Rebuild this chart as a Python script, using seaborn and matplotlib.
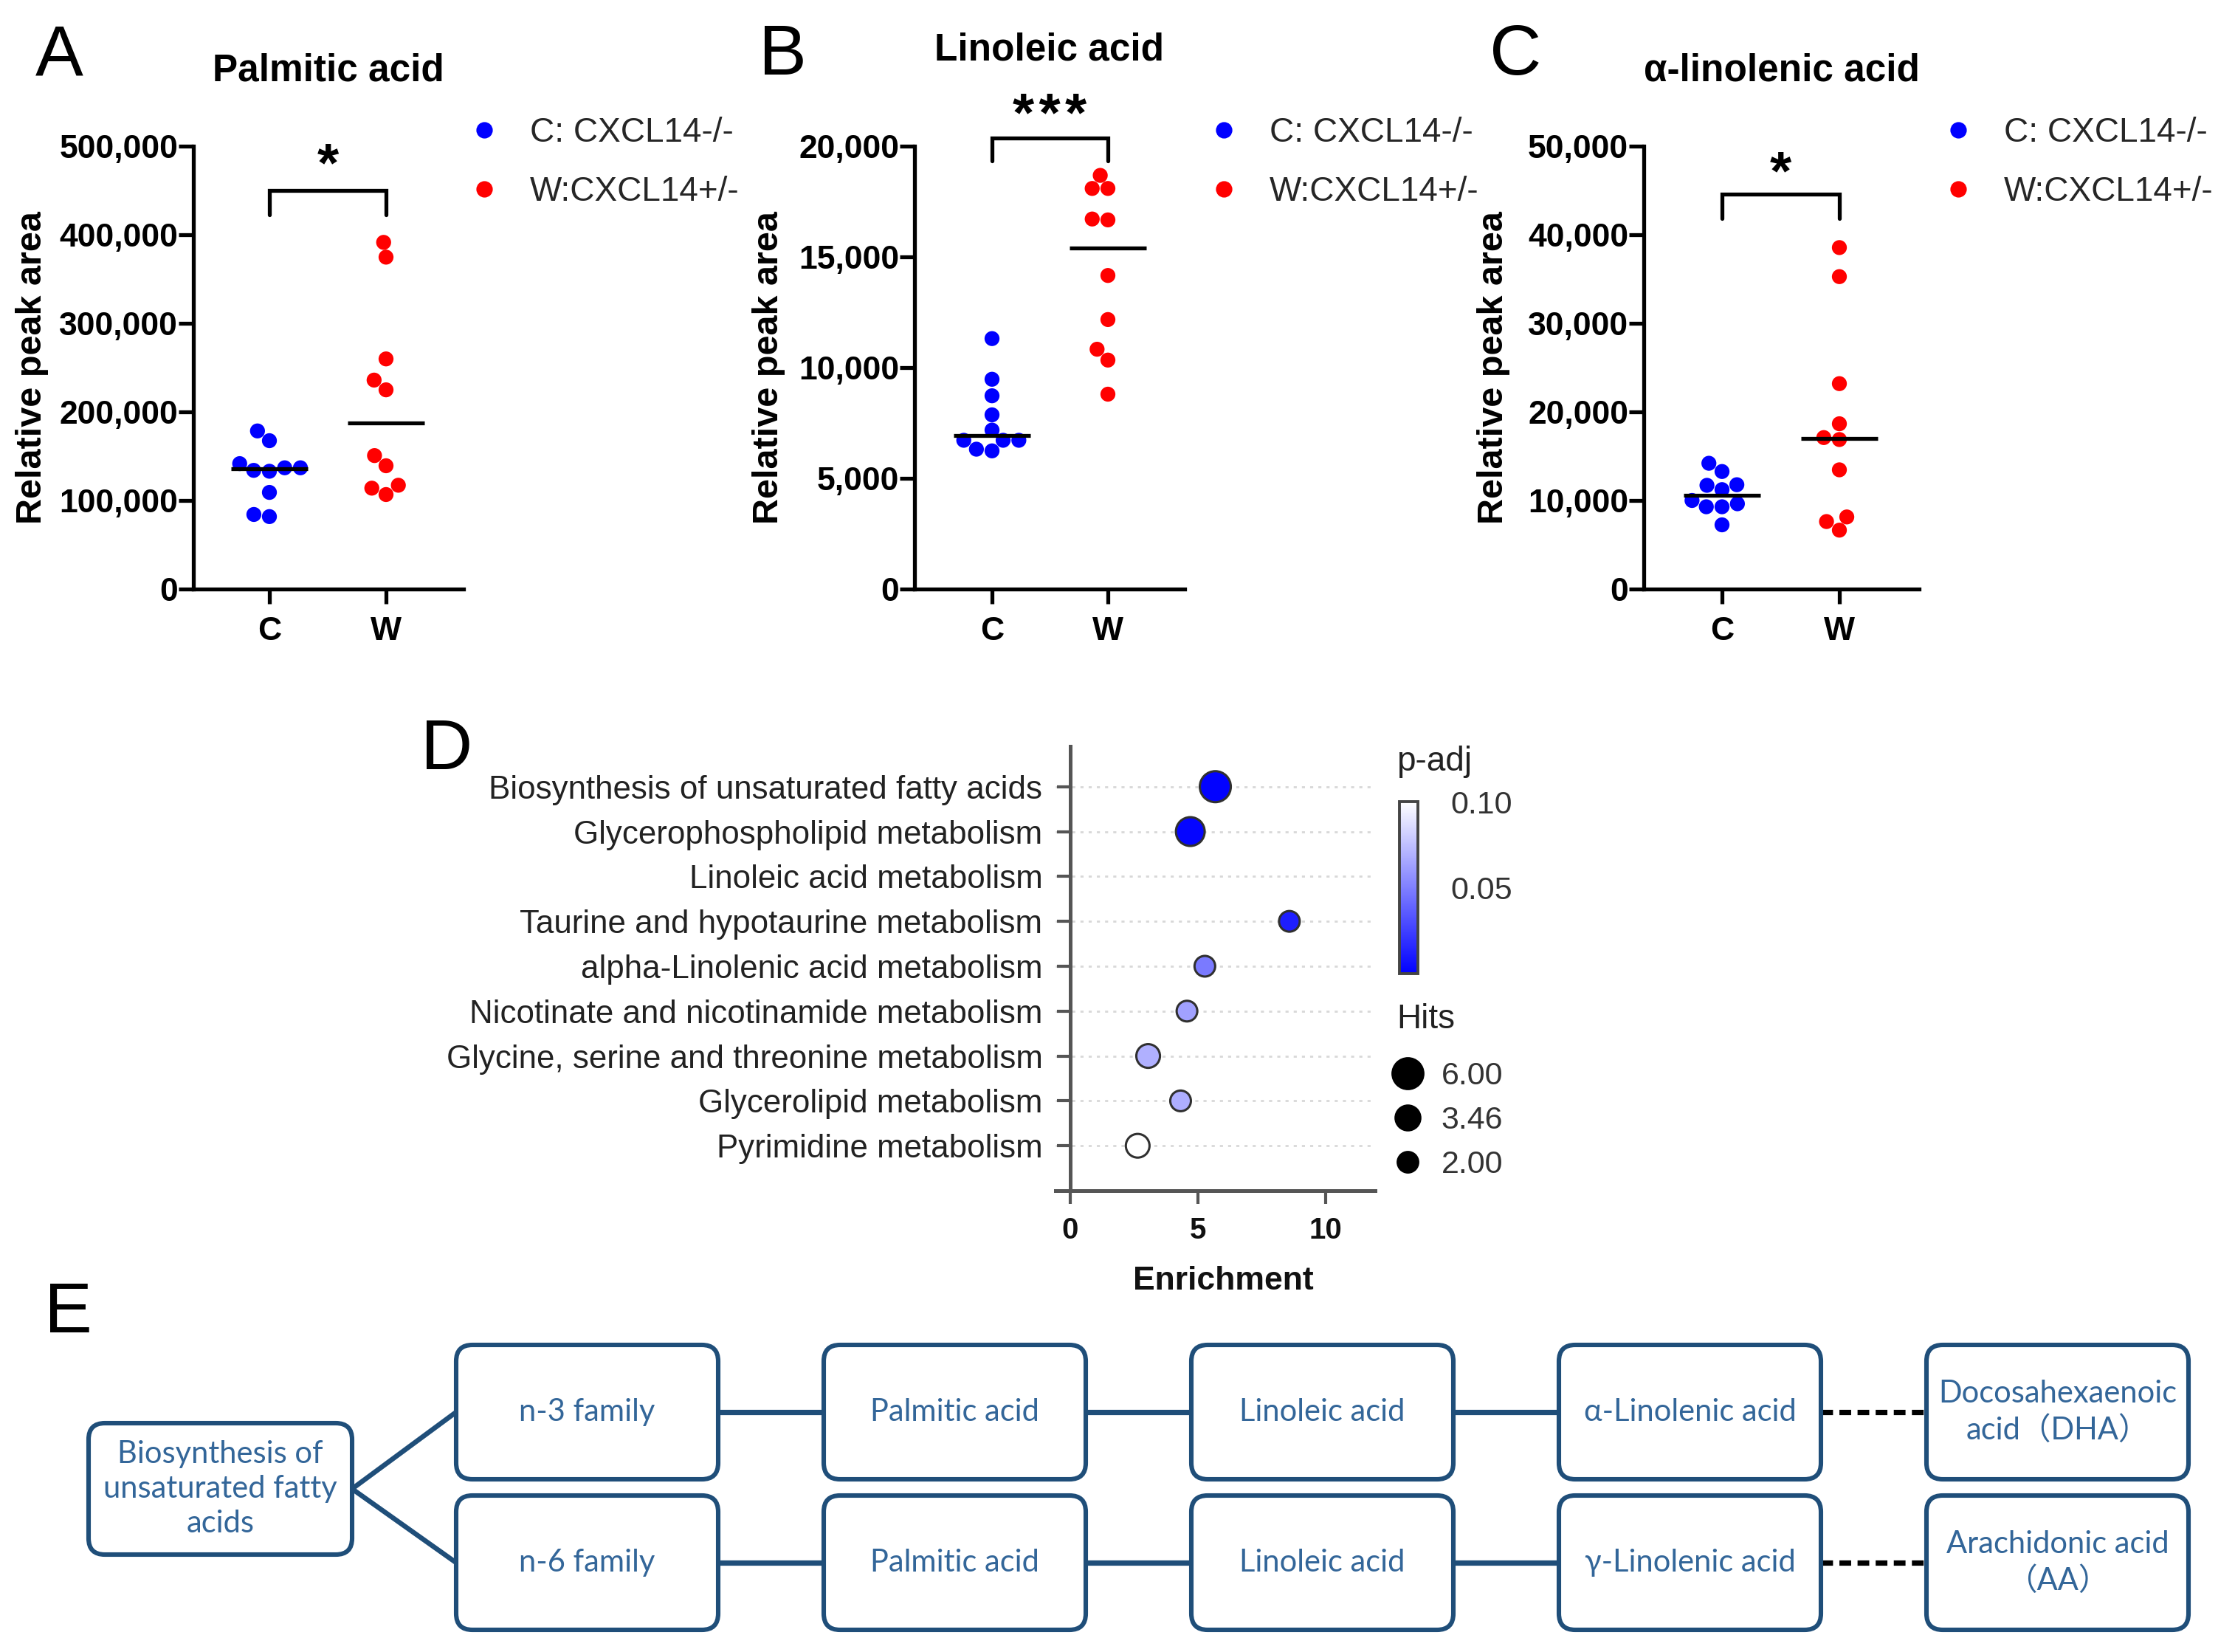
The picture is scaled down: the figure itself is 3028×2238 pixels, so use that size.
import numpy as np
import pandas as pd
import matplotlib
matplotlib.use("Agg")
import matplotlib.pyplot as plt
import seaborn as sns
from matplotlib.lines import Line2D
from matplotlib.patches import FancyBboxPatch
from matplotlib.colors import LinearSegmentedColormap, Normalize
from matplotlib.ticker import FormatStrFormatter

sns.set_theme(style="white")
plt.rcParams["font.family"] = ["Liberation Sans", "DejaVu Sans"]

# ---------------- data: panels A-C ----------------
groups = ["C", "W"]
legend_labels = ["C: CXCL14-/-", "W:CXCL14+/-"]
group_colors = ["#0000FF", "#FF0000"]

palmitic_C = [167500, 178500, 136900, 133000, 136900, 141600, 134000, 109100, 81800, 84200]
palmitic_W = [391400, 374700, 259800, 235900, 224900, 150700, 139200, 117200, 113900, 106700]
linoleic_C = [11310, 9474, 8728, 7867, 7178, 6316, 6718, 6718, 6718, 6240]
linoleic_W = [18680, 18090, 18090, 16670, 16710, 14160, 12170, 10830, 10340, 8800]
alinolenic_C = [14200, 13270, 11710, 11780, 11225, 10000, 9290, 9290, 9630, 7250]
alinolenic_W = [38550, 35270, 23190, 18660, 17100, 16880, 13460, 8140, 7620, 6650]

titles = ["Palmitic acid", "Linoleic acid", "α-linolenic acid"]
panel_letters = ["A", "B", "C"]
y_max = [500000, 20000, 50000]
y_ticks = [[0, 100000, 200000, 300000, 400000, 500000],
           [0, 5000, 10000, 15000, 20000],
           [0, 10000, 20000, 30000, 40000, 50000]]
signif = ["*", "***", "*"]
bracket_top = [450000, 20370, 44570]
bracket_arm = [422500, 19330, 41820]
star_y = [477000, 21300, 46800]

# ---------------- data: panel D ----------------
pathways = ["Biosynthesis of unsaturated fatty acids",
            "Glycerophospholipid metabolism",
            "Linoleic acid metabolism",
            "Taurine and hypotaurine metabolism",
            "alpha-Linolenic acid metabolism",
            "Nicotinate and nicotinamide metabolism",
            "Glycine, serine and threonine metabolism",
            "Glycerolipid metabolism",
            "Pyrimidine metabolism"]
enrichment = [5.68, 4.70, np.nan, 8.58, 5.27, 4.57, 3.05, 4.32, 2.64]
p_adj = [0.001, 0.002, np.nan, 0.012, 0.048, 0.063, 0.069, 0.068, 0.100]
hits = [6, 5, np.nan, 2, 2, 2, 3, 2, 3]
enrich_ticks = [0, 5, 10]
padj_ticks = [0.05, 0.10]
hits_legend = [6.00, 3.46, 2.00]

# ---------------- data: panel E ----------------
root_label = "Biosynthesis of\nunsaturated fatty\nacids"
row_n3 = ["n-3 family", "Palmitic acid", "Linoleic acid", "α-Linolenic acid",
          "Docosahexaenoic\nacid（DHA）"]
row_n6 = ["n-6 family", "Palmitic acid", "Linoleic acid", "γ-Linolenic acid",
          "Arachidonic acid\n（AA）"]

# ---------------- figure ----------------
W, H = 3028, 2238
DPI = 200
fig = plt.figure(figsize=(W / DPI, H / DPI), dpi=DPI)
fig.patch.set_facecolor("white")


def fx(px):
    return px / W


def fy(py):
    return 1 - py / H


# flowchart canvas (pixel coordinates)
axE = fig.add_axes([0, 0, 1, 1])
axE.set_xlim(0, W)
axE.set_ylim(H, 0)
axE.axis("off")
axE.patch.set_alpha(0)

# panels A-C
panel_data = [(palmitic_C, palmitic_W), (linoleic_C, linoleic_W), (alinolenic_C, alinolenic_W)]
axes_px = [(262, 628), (1239, 1605), (2227, 2600)]
cat_px = [(365, 523), (1344, 1501), (2333, 2492)]
title_y = [96, 68, 96]
ylabel_x = [-0.535, -0.478, -0.485]
legend_left = [638, 1640, 2635]
letter_x = [48, 1028, 2018]
AX_TOP, AX_BOT = 198, 798
palette = dict(zip(groups, group_colors))

for i in range(3):
    c_vals, w_vals = panel_data[i]
    df = pd.DataFrame({"group": ["C"] * len(c_vals) + ["W"] * len(w_vals),
                       "value": list(c_vals) + list(w_vals)})
    l, r = axes_px[i]
    ax = fig.add_axes([fx(l), fy(AX_BOT), fx(r - l), (AX_BOT - AX_TOP) / H])
    sns.swarmplot(data=df, x="group", y="value", hue="group", order=groups,
                  hue_order=groups, palette=palette, size=7.3, linewidth=0,
                  legend=False, ax=ax, zorder=3)
    unit = cat_px[i][1] - cat_px[i][0]
    ax.set_xlim((l - cat_px[i][0]) / unit, (r - cat_px[i][0]) / unit)
    ax.set_ylim(0, y_max[i])
    # medians
    for j, vals in enumerate([c_vals, w_vals]):
        ax.hlines(np.median(vals), j - 0.33, j + 0.33, color="black", lw=1.9, zorder=4)
    # bracket & stars
    ax.plot([0, 0, 1, 1], [bracket_arm[i], bracket_top[i], bracket_top[i], bracket_arm[i]],
            color="black", lw=1.9, clip_on=False, solid_joinstyle="miter")
    ax.text(0.5, star_y[i], "\u200a".join(signif[i]), ha="center", va="center",
            fontsize=27, fontweight="bold", color="black")
    for s in ["top", "right"]:
        ax.spines[s].set_visible(False)
    for s in ["left", "bottom"]:
        ax.spines[s].set_linewidth(1.9)
        ax.spines[s].set_color("black")
    ax.set_yticks(y_ticks[i], labels=[f"{v:,}" for v in y_ticks[i]],
                  fontweight="bold", fontsize=16)
    ax.set_xticks([0, 1], labels=groups, fontweight="bold", fontsize=16)
    ax.tick_params(axis="both", direction="out", length=7.2, width=1.9,
                   color="black", labelcolor="black", left=True, bottom=True)
    ax.tick_params(axis="y", pad=0.3)
    ax.tick_params(axis="x", pad=6)
    ax.set_xlabel("")
    ax.set_ylabel("Relative peak area", fontsize=17.5, fontweight="bold", color="black")
    ax.yaxis.set_label_coords(ylabel_x[i], 0.5)
    ax.set_title(titles[i], fontsize=18.5, fontweight="bold", color="black",
                 y=1 + (AX_TOP - title_y[i]) / (AX_BOT - AX_TOP), va="center", pad=0)
    ax.patch.set_alpha(0)
    handles = [Line2D([], [], marker="o", ls="", color=c, markersize=7) for c in group_colors]
    ax.legend(handles, legend_labels, loc="upper left",
              bbox_to_anchor=(fx(legend_left[i]), fy(158)), bbox_transform=fig.transFigure,
              frameon=False, fontsize=16.5, handlelength=0.8, handletextpad=0.95,
              labelspacing=0.78, borderpad=0, borderaxespad=0)
    fig.text(fx(letter_x[i]), fy(101), panel_letters[i], fontsize=35, va="baseline",
             ha="left", color="black")

# ---------------- panel D ----------------
cmap = LinearSegmentedColormap.from_list("blue_white", ["#0000FF", "#FFFFFF"])
norm = Normalize(0, 0.10)
dfD = pd.DataFrame({"row": np.arange(len(pathways)), "enrichment": enrichment,
                    "p_adj": p_adj, "hits": hits})
D_L, D_R, D_T, D_B, D_Y0 = 1430, 1863, 1011, 1613, 1450
axD = fig.add_axes([fx(D_L), fy(D_B), fx(D_R - D_L), (D_B - D_T) / H])
for s in ["top", "right"]:
    axD.spines[s].set_visible(False)
axD.spines["left"].set_position(("data", 0))
for s in ["left", "bottom"]:
    axD.spines[s].set_linewidth(1.8)
    axD.spines[s].set_color("#555555")
px_per_unit = (1796 - 1450) / 10
axD.grid(axis="y", linestyle=(0, (1.5, 2.5)), color="#d8d8d8", lw=1.0, zorder=0)
axD.grid(axis="x", visible=False)
sns.scatterplot(data=dfD, x="enrichment", y="row", hue="p_adj", size="hits",
                palette=cmap, hue_norm=(0, 0.10), sizes=(101.6, 228.6), size_norm=(2, 6),
                edgecolor="#303030", linewidth=1.1, legend=False, ax=axD, zorder=3)
axD.set_xlim(-(D_Y0 - D_L) / px_per_unit, (D_R - D_Y0) / px_per_unit)
axD.set_ylim(len(pathways) - 1 + 1.0, -0.9)
axD.set_yticks(np.arange(len(pathways)), labels=pathways, fontsize=15.8, color="#222222")
axD.set_xticks(enrich_ticks, labels=[str(t) for t in enrich_ticks], fontsize=14.5,
               fontweight="bold", color="#111111")
axD.tick_params(axis="both", direction="out", length=6.5, width=1.5, color="#555555",
                left=True, bottom=True)
axD.tick_params(axis="y", pad=7)
axD.tick_params(axis="x", pad=6)
axD.set_ylabel("")
axD.set_xlabel("Enrichment", fontsize=16, fontweight="bold", color="#111111")
axD.xaxis.set_label_coords((1657 - D_L) / (D_R - D_L), -(1715 - D_B) / (D_B - D_T))
axD.patch.set_alpha(0)

# colorbar p-adj
CB_L, CB_R, CB_T, CB_B = 1896, 1921, 1086, 1319
cax = fig.add_axes([fx(CB_L), fy(CB_B), fx(CB_R - CB_L), (CB_B - CB_T) / H])
sm = plt.cm.ScalarMappable(norm=norm, cmap=cmap)
cb = fig.colorbar(sm, cax=cax)
cb.set_ticks(padj_ticks)
cb.ax.yaxis.set_major_formatter(FormatStrFormatter("%.2f"))
cb.ax.tick_params(direction="in", length=9, width=1.0, color="#333333",
                  labelcolor="#333333", labelsize=15.5, pad=16)
cb.ax.minorticks_off()
cb.outline.set_edgecolor("#444444")
cb.outline.set_linewidth(1.4)
fig.text(fx(1892), fy(1032), "p-adj", fontsize=16.5, va="center", ha="left", color="#222222")

# hits legend
fig.text(fx(1892), fy(1381), "Hits", fontsize=16.5, va="center", ha="left", color="#222222")
hit_handles = []
for h in hits_legend:
    s = 101.6 + (h - 2) / 4 * (228.6 - 101.6)
    hit_handles.append(Line2D([], [], marker="o", ls="", color="black",
                              markersize=np.sqrt(s)))
legH = axD.legend(hit_handles, [f"{h:.2f}" for h in hits_legend],
                  loc="upper left", bbox_to_anchor=(fx(1884), fy(1438)),
                  bbox_transform=fig.transFigure, frameon=False, fontsize=15.5,
                  handlelength=1.05, handletextpad=0.55,
                  labelspacing=0.46, borderpad=0, borderaxespad=0)
for t in legH.get_texts():
    t.set_color("#333333")

fig.text(fx(570), fy(1042), "D", fontsize=35, va="baseline", ha="left", color="black")

# ---------------- panel E (flowchart) ----------------
fig.text(fx(60), fy(1805), "E", fontsize=35, va="baseline", ha="left", color="black")
edge_col = "#1f4e79"
text_col = "#336699"
e_font = ["Lato", "Noto Sans", "Noto Sans CJK SC"]
BOX_W, BOX_H = 355, 182
col_left0, col_pitch = 618, 498
row_tops = [1822, 2026]
root_box = (120, 1928, 357, 178)


def draw_box(x0, y0, w, h, label):
    patch = FancyBboxPatch((x0, y0), w, h, boxstyle="round,pad=0,rounding_size=22",
                           fc="white", ec=edge_col, lw=2.2, zorder=3)
    axE.add_patch(patch)
    axE.text(x0 + w / 2, y0 + h / 2, label, ha="center", va="center", fontsize=15,
             color=text_col, family=e_font, linespacing=1.3, zorder=4)


draw_box(*root_box, root_label)
root_rx = root_box[0] + root_box[2]
root_cy = root_box[1] + root_box[3] / 2
for r, row in enumerate([row_n3, row_n6]):
    top = row_tops[r]
    cy = top + BOX_H / 2
    axE.plot([root_rx, col_left0], [root_cy, cy], color=edge_col, lw=2.4, zorder=2,
             solid_capstyle="butt")
    for c, label in enumerate(row):
        x0 = col_left0 + c * col_pitch
        draw_box(x0, top, BOX_W, BOX_H, label)
        if c < len(row) - 1:
            xa = x0 + BOX_W
            xb = col_left0 + (c + 1) * col_pitch
            if c == len(row) - 2:
                axE.plot([xa, xb], [cy, cy], color="black", lw=2.6, zorder=2,
                         linestyle=(0, (2.2, 1.2)))
            else:
                axE.plot([xa, xb], [cy, cy], color=edge_col, lw=2.6, zorder=2)

fig.savefig("out.png", dpi=DPI, facecolor="white")
